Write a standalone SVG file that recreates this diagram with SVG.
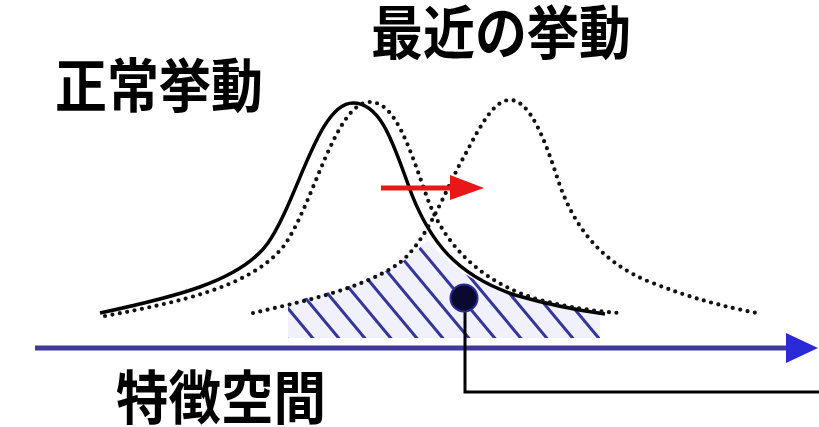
<svg xmlns="http://www.w3.org/2000/svg" width="819" height="427" viewBox="0 0 819 427">
<style>
.t{font-family:"Noto Sans CJK JP","Noto Sans CJK SC",sans-serif;font-weight:700;font-size:52px;fill:#000}
.solid{fill:none;stroke:#000;stroke-width:3.5}
.dot{fill:none;stroke:#111;stroke-width:4.2;stroke-linecap:round;stroke-dasharray:0 7.5}
.hatch{stroke:#35359a;stroke-width:3}
</style>
<defs>
<clipPath id="hc">
<path d="M288,338 L288,302 C325,294 365,284 400,263 C412,255 420,248 428,240 C445,262 470,282 510,295 C545,305 575,310 600,314 L600,338 Z"/>
</clipPath>
</defs>
<rect width="819" height="427" fill="#fff"/>
<g id="hatched-area">
<rect x="270" y="230" width="340" height="110" fill="#f1f1fc" clip-path="url(#hc)"/>
<g clip-path="url(#hc)">
<line class="hatch" x1="180" y1="210" x2="290" y2="342"/>
<line class="hatch" x1="206" y1="210" x2="316" y2="342"/>
<line class="hatch" x1="232" y1="210" x2="342" y2="342"/>
<line class="hatch" x1="258" y1="210" x2="368" y2="342"/>
<line class="hatch" x1="284" y1="210" x2="394" y2="342"/>
<line class="hatch" x1="310" y1="210" x2="420" y2="342"/>
<line class="hatch" x1="336" y1="210" x2="446" y2="342"/>
<line class="hatch" x1="362" y1="210" x2="472" y2="342"/>
<line class="hatch" x1="388" y1="210" x2="498" y2="342"/>
<line class="hatch" x1="414" y1="210" x2="524" y2="342"/>
<line class="hatch" x1="440" y1="210" x2="550" y2="342"/>
<line class="hatch" x1="466" y1="210" x2="576" y2="342"/>
<line class="hatch" x1="492" y1="210" x2="602" y2="342"/>
</g>
</g>
<g id="connectors">
<path class="solid" d="M100,313 C170,298 240,282 268,243 C298,200 318,103 353,103 C383,103 395,150 412,195 C430,240 455,275 515,295 C560,308 590,312 605,314"/>
<path class="dot" d="M105,316 C180,302 250,287 283,247 C313,207 335,102 370,102 C396,102 410,150 428,200 C448,252 488,285 540,300 C580,310 605,312 620,313"/>
<path class="dot" d="M253,313 C300,302 360,290 398,264 C428,242 447,185 465,155 C482,122 495,100 510,100 C530,100 545,140 558,180 C573,225 600,262 650,282 C690,298 725,307 757,313"/>
<line x1="35" y1="348" x2="790" y2="348" stroke="#403a9e" stroke-width="5"/>
<path d="M786,333 L818,348 L786,363 Z" fill="#2a2ad8"/>
<path d="M381,188 L455,188" stroke="#e81818" stroke-width="5" fill="none"/>
<path d="M450,175 L484,188 L450,200 Z" fill="#e81818"/>
<path d="M465,300 L465,392 L819,392" fill="none" stroke="#000" stroke-width="3"/>
</g>
<g id="point">
<circle cx="464" cy="298" r="13.5" fill="#0a0a30" stroke="#2a2a90" stroke-width="2"/>
</g>
<g id="label-normal"><text class="t" transform="translate(55,107) scale(1,1.12)">正常挙動</text></g>
<g id="label-recent"><text class="t" transform="translate(371,54) scale(1,1.12)">最近の挙動</text></g>
<g id="label-space"><text class="t" transform="translate(116,419) scale(1.01,1.12)">特徴空間</text></g>
</svg>
